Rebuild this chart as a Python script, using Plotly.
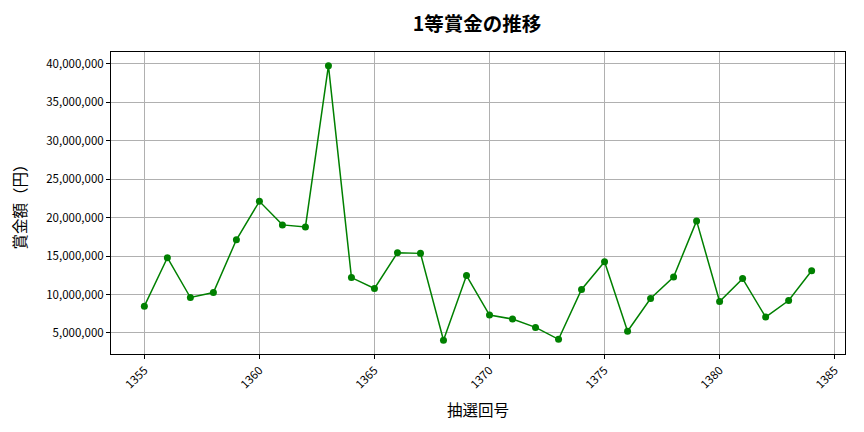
import plotly.graph_objects as go

draw_no = list(range(1355, 1385))
prize = [8.49, 14.78, 9.61, 10.26, 17.11, 22.11, 19.05, 18.79, 39.74, 12.2,
         10.78, 15.43, 15.35, 4.05, 12.46, 7.33, 6.81, 5.73, 4.18, 10.65,
         14.27, 5.22, 9.48, 12.28, 19.57, 9.09, 12.07, 7.07, 9.22, 13.1]
prize = [v * 1_000_000 for v in prize]

font = "Noto Sans CJK JP"

fig = go.Figure()
fig.add_trace(go.Scatter(
    x=draw_no, y=prize, mode="lines+markers",
    line=dict(color="green", width=1.5),
    marker=dict(color="green", size=7),
))

# page has an 8px body margin, so size the figure to fit the window
fig.update_layout(
    width=856, height=424,
    margin=dict(l=103, r=19, t=44, b=78),
    paper_bgcolor="white", plot_bgcolor="white",
    showlegend=False,
    font=dict(family=font, size=11.5, color="black"),
    title=dict(text="<b>1等賞金の推移</b>", x=0.548, xanchor="center",
               y=0.962, yanchor="middle", font=dict(size=19.5, family=font)),
)
fig.update_xaxes(
    range=[1353.55, 1385.45], tickvals=list(range(1355, 1386, 5)),
    tickangle=-45, ticks="outside", ticklen=4, tickcolor="black",
    showgrid=True, gridcolor="#b0b0b0", gridwidth=1, automargin=False,
    showline=True, linecolor="black", mirror=True, zeroline=False,
    title=dict(text="抽選回号", font=dict(size=15.5), standoff=14),
)
fig.update_yaxes(
    range=[2.27e6, 41.52e6], tickvals=[i * 5_000_000 for i in range(1, 9)],
    tickformat=",d", ticks="outside", ticklen=4, tickcolor="black",
    showgrid=True, gridcolor="#b0b0b0", gridwidth=1, automargin=False,
    showline=True, linecolor="black", mirror=True, zeroline=False,
    title=dict(text="賞金額（円）", font=dict(size=15.5), standoff=17),
)

fig.write_html("out.html")
